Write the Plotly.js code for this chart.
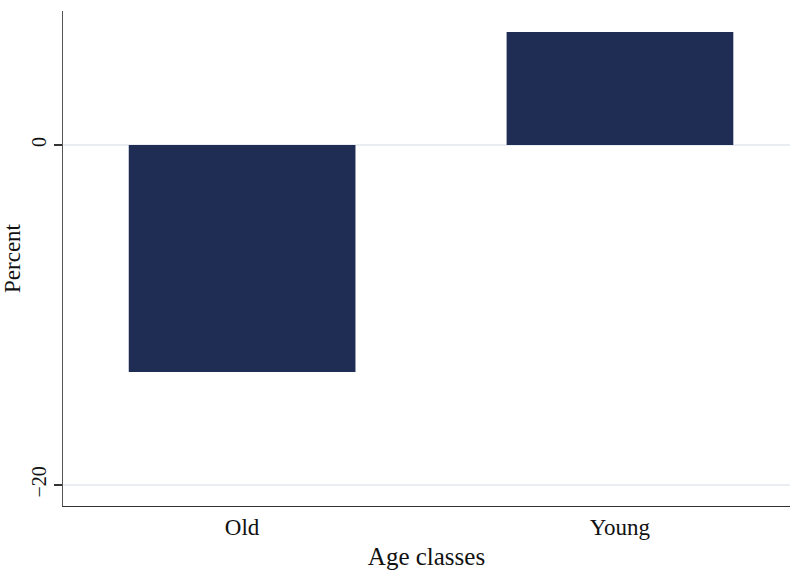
<!DOCTYPE html>
<html>
<head>
<meta charset="utf-8">
<script src="https://cdn.plot.ly/plotly-3.0.1.min.js"></script>
<style>html,body{margin:0;padding:0;background:#fff;}#chart{width:790px;height:570px;}</style>
</head>
<body>
<div id="chart"></div>
<script>
const categories = ["Old", "Young"];
const percentValues = [-13.35, 6.65];
const yTickValues = [-20, 0];
const yTickLabels = ["\u221220", "0"];

const trace = {
  type: "bar",
  x: categories,
  y: percentValues,
  marker: {color: "#1f2d55", line: {width: 0}},
  width: 0.6,
  hoverinfo: "x+y"
};

const serif = "Liberation Serif, DejaVu Serif, serif";

const layout = {
  width: 790,
  height: 570,
  margin: {l: 63, r: 0, t: 11, b: 64, pad: 0},
  paper_bgcolor: "#ffffff",
  plot_bgcolor: "#ffffff",
  showlegend: false,
  font: {family: serif, color: "#111111", size: 20},
  xaxis: {
    type: "category",
    range: [-0.474, 1.45],
    showgrid: false,
    zeroline: false,
    showline: true,
    linecolor: "#333333",
    linewidth: 1.3,
    ticks: "",
    tickfont: {family: serif, size: 23, color: "#111"},
    title: {text: "Age classes", font: {family: serif, size: 25, color: "#111"}, standoff: 9},
    fixedrange: true
  },
  yaxis: {
    range: [-21.24, 7.88],
    tickvals: yTickValues,
    ticktext: yTickLabels,
    tickangle: -90,
    showgrid: true,
    gridcolor: "#eaeef3",
    gridwidth: 1.3,
    zeroline: false,
    showline: true,
    linecolor: "#555555",
    linewidth: 1.3,
    ticks: "outside",
    ticklen: 8,
    tickcolor: "#333333",
    tickwidth: 1.2,
    tickfont: {family: serif, size: 20, color: "#111"},
    title: {text: "Percent", font: {family: serif, size: 23, color: "#111"}, standoff: 0},
    fixedrange: true
  }
};

Plotly.newPlot("chart", [trace], layout, {displayModeBar: false, staticPlot: true});
</script>
</body>
</html>
